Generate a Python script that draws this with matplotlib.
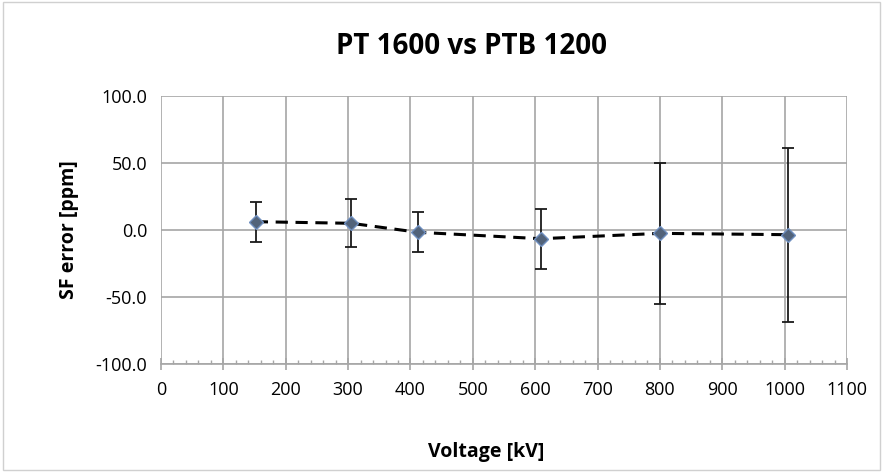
import matplotlib
matplotlib.use("Agg")
import matplotlib.pyplot as plt
from matplotlib.ticker import MultipleLocator, FormatStrFormatter
from matplotlib.patches import Rectangle

voltage = [152, 305, 412, 609, 800, 1005]
sf_error = [6.2, 5.0, -1.7, -6.5, -2.5, -3.5]
err = [15.0, 18.0, 15.0, 22.5, 52.5, 65.0]

title = "PT 1600 vs PTB 1200"
xlabel = "Voltage [kV]"
ylabel = "SF error [ppm]"

fig = plt.figure(figsize=(8.83, 4.72), dpi=100)
plt.rcParams['font.family'] = ['Open Sans', 'DejaVu Sans']
ax = fig.add_axes([161/883, 1 - 364/472, 686/883, 268/472])

# outer chart border
fig.patches.append(Rectangle((0.003, 0.005), 0.994, 0.99, transform=fig.transFigure,
                             fill=False, edgecolor='#d0d0d0', linewidth=1))

ax.errorbar(voltage, sf_error, yerr=err, fmt='none', ecolor='#1a1a1a',
            elinewidth=1.3, capsize=4, capthick=1.3, zorder=3)
ax.plot(voltage, sf_error, linestyle=(0, (4, 2.5)), color='black', linewidth=2.2, zorder=4)
ax.plot(voltage, sf_error, linestyle='none', marker='D', markersize=7.5,
        markerfacecolor='#52637a', markeredgecolor='#6f8fc0', markeredgewidth=1, zorder=5)

ax.set_xlim(0, 1100)
ax.set_ylim(-100, 100)
ax.xaxis.set_major_locator(MultipleLocator(100))
ax.xaxis.set_minor_locator(MultipleLocator(20))
ax.yaxis.set_major_locator(MultipleLocator(50))
ax.yaxis.set_major_formatter(FormatStrFormatter('%.1f'))
ax.grid(True, which='major', color='#a6a6a6', linewidth=1.2)
ax.set_axisbelow(True)

for s in ['top', 'right', 'left']:
    ax.spines[s].set_visible(False)
ax.spines['bottom'].set_color('#a6a6a6')
ax.spines['bottom'].set_linewidth(1.2)

ax.tick_params(axis='x', which='major', direction='inout', length=8, width=1.2,
               color='#a6a6a6', labelsize=13, pad=8)
ax.tick_params(axis='x', which='minor', direction='in', length=3, width=1,
               color='#a6a6a6')
ax.tick_params(axis='y', which='major', length=0, labelsize=13, pad=10)

fig.text(471/883, 1 - 47/472, title, fontsize=20, fontweight='bold',
         ha='center', va='center')
fig.text(486/883, 1 - 452/472, xlabel, fontsize=14, fontweight='bold',
         ha='center', va='center')
ax.set_ylabel(ylabel, fontsize=14, fontweight='bold', labelpad=12)

fig.savefig("out.png", dpi=100)
